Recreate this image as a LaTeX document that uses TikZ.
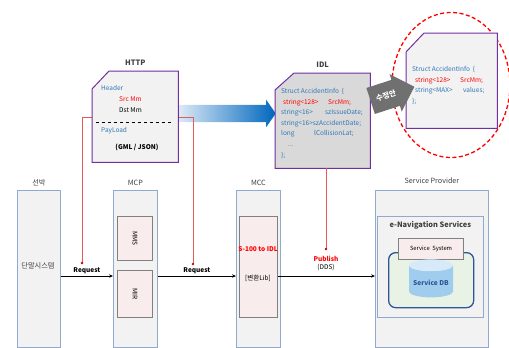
\documentclass[tikz,border=0pt]{standalone}
\usepackage{fontspec}
\setmainfont{Noto Sans CJK KR}
\usetikzlibrary{positioning, arrows.meta, calc, shapes.geometric, shapes.arrows}

\definecolor{colframe}{RGB}{143,170,204}
\definecolor{colfill}{RGB}{242,242,242}
\definecolor{modframe}{RGB}{128,128,128}
\definecolor{modfill}{RGB}{249,236,236}
\definecolor{msgframe}{RGB}{112,48,160}
\definecolor{idlgray}{RGB}{217,217,217}
\definecolor{codeblue}{RGB}{46,117,182}
\definecolor{codered}{RGB}{255,0,0}
\definecolor{tapred}{RGB}{228,90,90}
\definecolor{tapdark}{RGB}{192,0,0}
\definecolor{pushblue}{RGB}{0,102,190}
\definecolor{editgray}{RGB}{112,112,112}
\definecolor{titlegray}{RGB}{64,64,64}
\definecolor{dbframe}{RGB}{47,85,151}
\definecolor{dbgreen}{RGB}{233,243,229}
\definecolor{dbblue}{RGB}{160,204,238}
\definecolor{dbtop}{RGB}{214,234,250}

\tikzset{
  colbox/.style={draw=colframe, fill=colfill, line width=0.8pt, anchor=north west, minimum height=157pt},
  modbox/.style={draw=modframe, fill=modfill, line width=1.1pt, anchor=north west},
  msgbox/.style={draw=msgframe, line width=1pt},
  title/.style={text=titlegray, inner sep=1pt, font=\fontsize{7.2}{8}\selectfont},
  titleb/.style={title, font=\fontsize{7.4}{8}\selectfont\bfseries},
  small/.style={inner sep=0pt, font=\fontsize{6.5}{7}\selectfont},
  smallb/.style={inner sep=0pt, font=\fontsize{6.5}{7}\selectfont\bfseries},
  code/.style={inner sep=0pt, align=left, anchor=north west, text=codeblue, font=\fontsize{6.5}{10.6}\selectfont},
  reqline/.style={->, line width=0.8pt},
  reqlabel/.style={smallb, above=2pt},
  tapline/.style={draw=tapred, line width=0.6pt},
  tapdot/.style={circle, fill=tapdark, inner sep=0pt, minimum size=2.6pt},
}

\begin{document}
\begin{tikzpicture}[x=1pt, y=-1pt, >={Stealth[length=4pt, width=3.4pt]}]
  \useasboundingbox (0,0) rectangle (509,348);

  % columns of the chain
  \node[colbox, minimum width=43pt] (ship) at (17,190) {};
  \node[colbox, minimum width=44pt] (mcp) at (113,190) {};
  \node[colbox, minimum width=44pt] (mcc) at (236,190) {};
  \node[colbox, minimum width=113pt] (sp) at (375,190) {};
  \node[title, above=3pt of ship] {선박};
  \node[title, above=3pt of mcp] {MCP};
  \node[title, above=3pt of mcc] {MCC};
  \node[title, above=5pt of sp] {Service Provider};
  \node[title] (term) at (38,266) {단말시스템};

  % MCP modules
  \node[modbox, minimum width=35pt, minimum height=44pt] (mms) at (117,216) {};
  \node[modbox, minimum width=35pt, minimum height=47pt] (mir) at (117,270) {};
  \node[small, rotate=-90] at (mms) {MMS};
  \node[small, rotate=-90] at (mir) {MIR};

  % MCC converter
  \node[modbox, minimum width=38pt, minimum height=101pt] (conv) at (239,216) {};
  \node[smallb, text=codered] at (258,249) {S-100 to IDL};
  \node[small] at (258,278) {[변환Lib]};

  % service provider
  \node[draw=colframe, fill=colfill, line width=0.8pt, anchor=north west,
        minimum width=106pt, minimum height=101pt] (enav) at (377,216) {};
  \node[titleb, below=4pt of enav.north] {e-Navigation Services};
  \node[draw=dbframe, fill=dbgreen, line width=1.3pt, rounded corners=7pt, anchor=north west,
        minimum width=85pt, minimum height=55pt] (store) at (388,252) {};
  \node[modbox, minimum width=65pt, minimum height=21pt, font=\fontsize{5.8}{6}\selectfont] (svc) at (398,238) {Service\ \ System};
  \node[cylinder, shape border rotate=90, aspect=0.28, cylinder uses custom fill,
        cylinder body fill=dbblue, cylinder end fill=dbtop, minimum width=44pt, minimum height=38pt,
        text=dbframe, font=\fontsize{6.6}{7}\selectfont\bfseries] (db) at (431,283) {Service DB};

  % requests along the chain
  \coordinate (bus) at (0,276);
  \draw[reqline] (ship.east |- bus) -- node[reqlabel] {Request} (mcp.west |- bus);
  \draw[reqline] (mcp.east |- bus) -- node[reqlabel] {Request} (mcc.west |- bus);
  \draw[reqline] (conv.east |- bus) -- (sp.west |- bus);

  % HTTP to IDL
  \node[single arrow, left color=white, right color=pushblue, minimum height=113pt,
        inner xsep=0pt, inner ysep=8.5pt, single arrow head extend=5pt,
        single arrow tip angle=110, anchor=tip] (push) at (276,113.5) {};

  % taps on the requests
  \node[tapdot] (tapA) at (82,263) {};
  \node[tapdot] (tapB) at (193,264) {};
  \coordinate (tapTop) at (82,117);
  \draw[tapline] (tapA) -- (tapTop) -| (tapB);

  % HTTP message
  \node[minimum width=86pt, minimum height=91pt, anchor=north west, inner sep=0pt] (http) at (92,71) {};
  \draw[msgbox, fill=colfill] (http.south west) -- ($(http.north west)+(0,18)$)
    -- ($(http.north west)+(17,0)$) -- (http.north east) -- (http.south east) -- cycle;
  \node[titleb, above=4pt of http] {HTTP};
  \node[small, text=codeblue, anchor=west] at (101,88) {Header};
  \node[small, text=codered, anchor=west] at (119,99) {Src Mm};
  \node[small, anchor=west] at (119,110) {Dst Mm};
  \draw[dashed, line width=0.5pt] (96,122) -- (173,122);
  \node[small, text=codeblue, anchor=west] at (101,131) {PayLoad};
  \node[smallb] at (137,147) {(GML / JSON)};

  % IDL struct
  \node[minimum width=95pt, minimum height=95pt, anchor=north west, inner sep=0pt] (idl) at (275,73) {};
  \draw[msgbox, fill=idlgray] (idl.south west) -- ($(idl.north west)+(0,17)$)
    -- ($(idl.north west)+(19,0)$) -- (idl.north east) -- (idl.south east) -- cycle;
  \node[titleb, above=4pt of idl] {IDL};
  \node[code] at (281,88) {Struct AccidentInfo~~\{\\
    \textcolor{codered}{\hspace{2pt}\makebox[45pt][l]{string<128>}SrcMm;}\\
    \makebox[44pt][l]{string<16>}szIssueDate;\\
    string<16>szAccidentDate;\\
    \makebox[33pt][l]{long}lCollisionLat;\\
    \hspace{7pt}...\\
    \};};

  \node[tapdot] (pubdot) at (326,249) {};
  \draw[tapline] (pubdot) -- (pubdot |- idl.south);
  \node[smallb, text=codered, below=5pt of pubdot] (publ) {Publish};
  \node[small, below=3pt of publ] {(DDS)};

  % revised struct
  \node[ellipse, draw=codered, line width=1.3pt, dash pattern=on 4pt off 2.5pt,
        minimum width=118pt, minimum height=145pt] (focus) at (451,85) {};
  \node[minimum width=91pt, minimum height=95pt, anchor=north west, inner sep=0pt] (rev) at (406,33) {};
  \draw[msgbox, fill=colfill] (rev.south west) -- ($(rev.north west)+(0,19)$)
    -- ($(rev.north west)+(18,0)$) -- (rev.north east) -- (rev.south east) -- cycle;
  \node[code] at (412,66) {Struct AccidentInfo~~\{\\
    \textcolor{codered}{\hspace{3pt}\makebox[45pt][l]{string<128>}SrcMm;}\\
    \hspace{3pt}\makebox[48pt][l]{string<MAX>}values;\\
    \};};

  \node[single arrow, fill=editgray, text=white, rotate=18, minimum height=46pt,
        inner ysep=10pt, inner xsep=1pt, single arrow head extend=6pt,
        font=\fontsize{7.4}{8}\selectfont\bfseries] (edit) at (386,96) {수정안};
\end{tikzpicture}
\end{document}
